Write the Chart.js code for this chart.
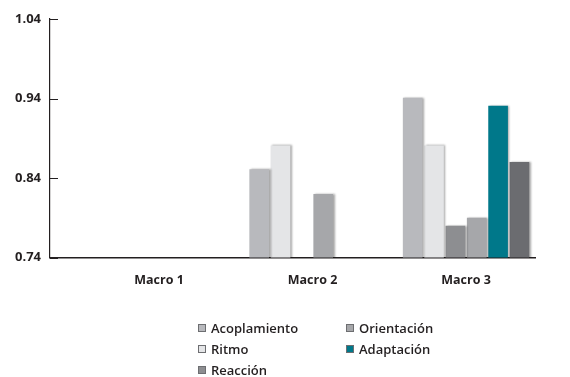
<!DOCTYPE html>
<html>
<head>
<meta charset="utf-8">
<script src="https://cdn.jsdelivr.net/npm/chart.js@4/dist/chart.umd.min.js"></script>
<style>
  html, body { margin: 0; padding: 0; background: #ffffff; }
  #wrap { position: relative; width: 570px; height: 377px; }
  #chart { position: absolute; left: 0; top: 0; }
  #legend {
    position: absolute; left: 198px; top: 317px;
    display: grid; grid-template-columns: 148px auto; grid-auto-flow: column;
    grid-template-rows: 21px 21px 21px;
    font-family: "Open Sans", sans-serif; font-weight: 600; font-size: 13px; color: #231f20;
  }
  .item { display: flex; align-items: center; white-space: nowrap; }
  .sw { width: 6px; height: 6px; margin-right: 5px; border: 1px solid #6d6e71; }
</style>
</head>
<body>
<div id="wrap">
  <canvas id="chart" width="570" height="377"></canvas>
  <div id="legend"></div>
</div>
<script>
// Categories and tick labels
const categories = ['Macro 1', 'Macro 2', 'Macro 3'];
const yTicks = [0.74, 0.84, 0.94, 1.04];

// Series values (null = below the axis minimum)
const acoplamiento = [null, 0.851, 0.941];
const ritmo        = [null, 0.881, 0.881];
const reaccion     = [null, null, 0.780];
const orientacion  = [null, 0.820, 0.790];
const adaptacion   = [null, null, 0.931];
const serie6       = [null, null, 0.860];

const series = [
  { label: 'Acoplamiento', values: acoplamiento, color: '#b8b9bd', legend: true },
  { label: 'Ritmo',        values: ritmo,        color: '#e4e5e7', legend: true },
  { label: 'Reacción',     values: reaccion,     color: '#8d8e91', legend: true },
  { label: 'Orientación',  values: orientacion,  color: '#a6a7aa', legend: true },
  { label: 'Adaptación',   values: adaptacion,   color: '#00788a', legend: true },
  { label: 'Serie 6',      values: serie6,       color: '#6b6c70', legend: false }
];

const datasets = series.map(s => ({
  label: s.label,
  data: s.values.map((v, i) => ({ x: i, y: v })),
  backgroundColor: s.color,
  borderWidth: 0,
  categoryPercentage: 0.834,
  barPercentage: 0.92
}));

// Soft drop shadow behind the bars
const barShadow = {
  id: 'barShadow',
  beforeDatasetsDraw(chart) {
    const ctx = chart.ctx;
    ctx.save();
    ctx.shadowColor = 'rgba(0,0,0,0.35)';
    ctx.shadowOffsetX = 1.5;
    ctx.shadowOffsetY = 0;
    ctx.shadowBlur = 2;
  },
  afterDatasetsDraw(chart) {
    chart.ctx.restore();
  }
};

// Short tick marks drawn inward from the value axis
const innerTicks = {
  id: 'innerTicks',
  afterDraw(chart) {
    const ctx = chart.ctx;
    const y = chart.scales.y;
    const left = chart.chartArea.left;
    ctx.save();
    ctx.strokeStyle = '#231f20';
    ctx.lineWidth = 1;
    y.ticks.forEach(t => {
      const py = Math.round(y.getPixelForValue(t.value)) + 0.5;
      ctx.beginPath();
      ctx.moveTo(left, py);
      ctx.lineTo(left + 8, py);
      ctx.stroke();
    });
    ctx.restore();
  }
};

const chart = new Chart(document.getElementById('chart'), {
  type: 'bar',
  data: { datasets },
  plugins: [barShadow, innerTicks],
  options: {
    responsive: false,
    animation: false,
    layout: { padding: { top: 19, right: 35, bottom: 89.5, left: 0 } },
    plugins: { legend: { display: false }, tooltip: { enabled: false } },
    scales: {
      x: {
        type: 'linear',
        offset: false,
        min: -0.71,
        max: 2.449,
        afterBuildTicks: s => { s.ticks = categories.map((c, i) => ({ value: i })); },
        afterFit: s => { s.height = 30; },
        ticks: {
          callback: v => categories[v],
          padding: 15,
          color: '#231f20',
          font: { family: 'Open Sans', weight: 'bold', size: 12.5 }
        },
        grid: { display: false, drawTicks: false },
        border: { display: true, color: '#231f20', width: 1.6 }
      },
      y: {
        min: yTicks[0],
        max: yTicks[yTicks.length - 1],
        afterBuildTicks: s => { s.ticks = yTicks.map(v => ({ value: v })); },
        afterFit: s => { s.width = 50; },
        ticks: {
          callback: v => v.toFixed(2),
          padding: 9,
          color: '#231f20',
          font: { family: 'Open Sans', weight: 'bold', size: 13 }
        },
        grid: { display: false, drawTicks: false },
        border: { display: true, color: '#231f20', width: 1.2 }
      }
    }
  }
});

// Legend laid out in columns, built from the datasets
const legendEl = document.getElementById('legend');
series.forEach(s => {
  if (!s.legend) return;
  const item = document.createElement('div');
  item.className = 'item';
  const sw = document.createElement('span');
  sw.className = 'sw';
  sw.style.background = s.color;
  const tx = document.createElement('span');
  tx.textContent = s.label;
  item.appendChild(sw);
  item.appendChild(tx);
  legendEl.appendChild(item);
});
</script>
</body>
</html>
